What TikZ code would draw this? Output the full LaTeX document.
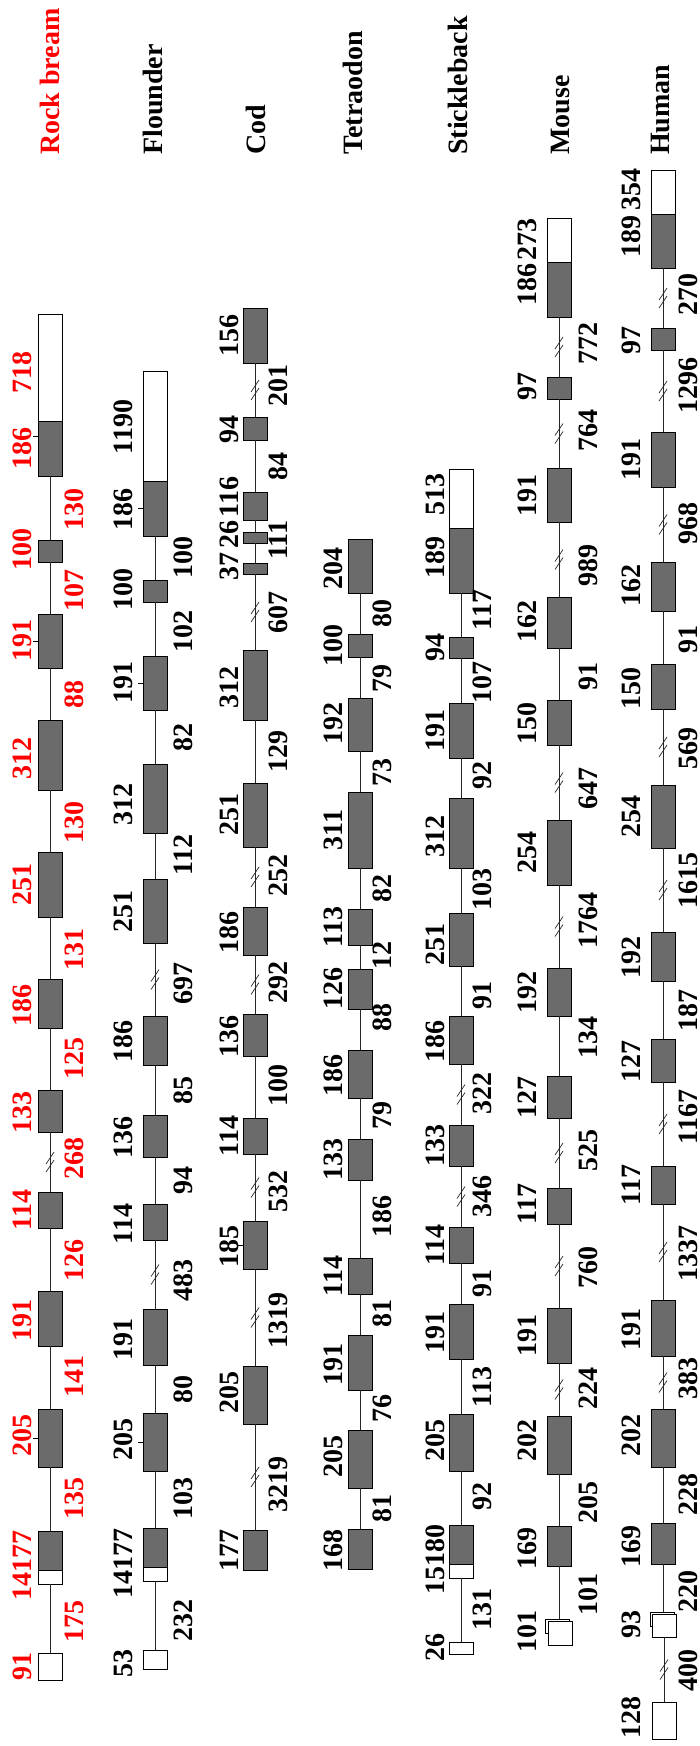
\documentclass[tikz,border=0pt]{standalone}
\usepackage{fontspec}
\setmainfont{Liberation Serif}
\definecolor{exgray}{RGB}{107,107,107}
\definecolor{rbred}{RGB}{255,0,0}
\tikzset{
  exon/.style={draw=black, fill=exgray, line width=0.8pt, minimum width=24pt, inner sep=0pt, outer sep=0pt},
  utr/.style={exon, fill=white},
  intron/.style={draw=black!85, line width=0.9pt},
  lab/.style={rotate=90, inner sep=0pt, font=\bfseries\fontsize{28}{28}\selectfont},
  title/.style={lab, anchor=south west},
  tickmark/.style={draw=black, line width=0.8pt},
  brk/.pic={\draw[line width=0.7pt] (-4pt,-10pt) -- (4pt,2pt) (-4pt,-2pt) -- (4pt,10pt);}
}
\newcommand\exonbox[5][exon]{%
  \pgfmathsetmacro\exh{#5-#4}%
  \pgfmathsetmacro\exc{(#4+#5)/2}%
  \node[#1, minimum height=\exh pt] (#2) at (#3,\exc) {};}
\newcommand\numlab[5][]{\node[lab,#1] (#2) at (#3,#4) {#5};}
\begin{document}
\begin{tikzpicture}[x=1pt,y=-1pt]
\useasboundingbox (0,0) rectangle (700,1746);

% ---------------- Rock bream ----------------
\node[title, text=rbred] (tRB) at (60,155) {Rock bream};
\exonbox[utr]{rb1}{50}{314}{476}
\exonbox{rb1c}{50}{421}{476}
\exonbox{rb2}{50}{540}{562}
\exonbox{rb3}{50}{614}{668}
\exonbox{rb4}{50}{720}{790}
\exonbox{rb5}{50}{852}{917}
\exonbox{rb6}{50}{979}{1028}
\exonbox{rb7}{50}{1090}{1132}
\exonbox{rb8}{50}{1192}{1228}
\exonbox{rb9}{50}{1291}{1346}
\exonbox{rb10}{50}{1409}{1467}
\exonbox[utr]{rb11}{50}{1531}{1584}
\exonbox{rb11c}{50}{1531}{1570}
\exonbox[utr]{rb12}{50}{1653}{1680}
\draw[intron] (rb1) -- (rb2);
\draw[intron] (rb2) -- (rb3);
\draw[intron] (rb3) -- (rb4);
\draw[intron] (rb4) -- (rb5);
\draw[intron] (rb5) -- (rb6);
\draw[intron] (rb6) -- (rb7);
\draw[intron] (rb7) -- pic[midway]{brk} (rb8);
\draw[intron] (rb8) -- (rb9);
\draw[intron] (rb9) -- (rb10);
\draw[intron] (rb10) -- (rb11);
\draw[intron] (rb11) -- (rb12);
\draw[tickmark] (rb1c.north west) ++(0,15) -- ++(-5,0);
\draw[tickmark] (rb3.west) -- ++(-5,0);
\draw[tickmark] (rb10.west) -- ++(-5,0);
\numlab[text=rbred]{rbl1}{22}{372}{718}
\numlab[text=rbred]{rbl2}{22}{448}{186}
\numlab[text=rbred]{rbl3}{22}{549}{100}
\numlab[text=rbred]{rbl4}{22}{640}{191}
\numlab[text=rbred]{rbl5}{22}{758}{312}
\numlab[text=rbred]{rbl6}{22}{884}{251}
\numlab[text=rbred]{rbl7}{22}{1005}{186}
\numlab[text=rbred]{rbl8}{22}{1112}{133}
\numlab[text=rbred]{rbl9}{22}{1210}{114}
\numlab[text=rbred]{rbl10}{22}{1320}{191}
\numlab[text=rbred]{rbl11}{22}{1435}{205}
\numlab[text=rbred]{rbl12}{22}{1565}{14177}
\numlab[text=rbred]{rbl13}{22}{1666}{91}
\numlab[text=rbred]{rbr1}{74}{509}{130}
\numlab[text=rbred]{rbr2}{74}{590}{107}
\numlab[text=rbred]{rbr3}{74}{694}{88}
\numlab[text=rbred]{rbr4}{74}{822}{130}
\numlab[text=rbred]{rbr5}{74}{949}{131}
\numlab[text=rbred]{rbr6}{74}{1058}{125}
\numlab[text=rbred]{rbr7}{74}{1158}{268}
\numlab[text=rbred]{rbr8}{74}{1260}{126}
\numlab[text=rbred]{rbr9}{74}{1376}{141}
\numlab[text=rbred]{rbr10}{74}{1498}{135}
\numlab[text=rbred]{rbr11}{74}{1621}{175}

% ---------------- Flounder ----------------
\node[title] (tFL) at (163,155) {Flounder};
\exonbox[utr]{fl1}{155}{371}{536}
\exonbox{fl1c}{155}{481}{536}
\exonbox{fl2}{155}{580}{602}
\exonbox{fl3}{155}{656}{710}
\exonbox{fl4}{155}{764}{833}
\exonbox{fl5}{155}{879}{943}
\exonbox{fl6}{155}{1016}{1065}
\exonbox{fl7}{155}{1115}{1157}
\exonbox{fl8}{155}{1204}{1240}
\exonbox{fl9}{155}{1309}{1365}
\exonbox{fl10}{155}{1413}{1471}
\exonbox[utr]{fl11}{155}{1528}{1581}
\exonbox{fl11c}{155}{1528}{1567}
\exonbox[utr]{fl12}{155}{1650}{1669}
\draw[intron] (fl1) -- (fl2);
\draw[intron] (fl2) -- (fl3);
\draw[intron] (fl3) -- (fl4);
\draw[intron] (fl4) -- (fl5);
\draw[intron] (fl5) -- pic[midway]{brk} (fl6);
\draw[intron] (fl6) -- (fl7);
\draw[intron] (fl7) -- (fl8);
\draw[intron] (fl8) -- pic[midway]{brk} (fl9);
\draw[intron] (fl9) -- (fl10);
\draw[intron] (fl10) -- (fl11);
\draw[intron] (fl11) -- (fl12);
\draw[tickmark] (fl1c.west) -- ++(-5,0);
\draw[tickmark] (fl3.west) -- ++(-5,0);
\draw[tickmark] (fl10.west) -- ++(-5,0);
\numlab{fll1}{123}{427}{1190}
\numlab{fll2}{123}{509}{186}
\numlab{fll3}{123}{589}{100}
\numlab{fll4}{123}{682}{191}
\numlab{fll5}{123}{804}{312}
\numlab{fll6}{123}{911}{251}
\numlab{fll7}{123}{1041}{186}
\numlab{fll8}{123}{1137}{136}
\numlab{fll9}{123}{1224}{114}
\numlab{fll10}{123}{1339}{191}
\numlab{fll11}{123}{1439}{205}
\numlab{fll12}{123}{1563}{14177}
\numlab{fll13}{123}{1663}{53}
\numlab{flr1}{183}{557}{100}
\numlab{flr2}{183}{631}{102}
\numlab{flr3}{183}{737}{82}
\numlab{flr4}{183}{855}{112}
\numlab{flr5}{183}{983}{697}
\numlab{flr6}{183}{1090}{85}
\numlab{flr7}{183}{1180}{94}
\numlab{flr8}{183}{1280}{483}
\numlab{flr9}{183}{1389}{80}
\numlab{flr10}{183}{1498}{103}
\numlab{flr11}{183}{1620}{232}

% ---------------- Cod ----------------
\node[title] (tCO) at (266,155) {Cod};
\exonbox{co1}{255}{308}{363}
\exonbox{co2}{255}{417}{440}
\exonbox{co3}{255}{492}{520}
\exonbox{co4}{255}{532}{543}
\exonbox{co5}{255}{563}{574}
\exonbox{co6}{255}{650}{720}
\exonbox{co7}{255}{783}{847}
\exonbox{co8}{255}{907}{955}
\exonbox{co9}{255}{1014}{1056}
\exonbox{co10}{255}{1118}{1154}
\exonbox{co11}{255}{1221}{1269}
\exonbox{co12}{255}{1366}{1424}
\exonbox{co13}{255}{1530}{1570}
\draw[intron] (co1) -- pic[midway]{brk} (co2);
\draw[intron] (co2) -- (co3);
\draw[intron] (co3) -- (co4);
\draw[intron] (co4) -- (co5);
\draw[intron] (co5) -- pic[midway]{brk} (co6);
\draw[intron] (co6) -- (co7);
\draw[intron] (co7) -- pic[midway]{brk} (co8);
\draw[intron] (co8) -- pic[midway]{brk} (co9);
\draw[intron] (co9) -- (co10);
\draw[intron] (co10) -- pic[midway]{brk} (co11);
\draw[intron] (co11) -- pic[midway]{brk} (co12);
\draw[intron] (co12) -- pic[midway]{brk} (co13);
\draw[tickmark] (co11.west) -- ++(-5,0);
\numlab{col1}{229}{335}{156}
\numlab{col2}{229}{429}{94}
\numlab{col3}{229}{497}{116}
\numlab{col4}{229}{534}{26}
\numlab{col5}{229}{566}{37}
\numlab{col6}{229}{687}{312}
\numlab{col7}{229}{814}{251}
\numlab{col8}{229}{932}{186}
\numlab{col9}{229}{1036}{136}
\numlab{col10}{229}{1136}{114}
\numlab{col11}{229}{1246}{185}
\numlab{col12}{229}{1392}{205}
\numlab{col13}{229}{1550}{177}
\numlab{cor1}{278}{385}{201}
\numlab{cor2}{278}{466}{84}
\numlab{cor3}{278}{540}{111}
\numlab{cor4}{278}{612}{607}
\numlab{cor5}{278}{751}{129}
\numlab{cor6}{278}{875}{252}
\numlab{cor7}{278}{982}{292}
\numlab{cor8}{278}{1085}{100}
\numlab{cor9}{278}{1191}{532}
\numlab{cor10}{278}{1320}{1319}
\numlab{cor11}{278}{1484}{3219}

% ---------------- Tetraodon ----------------
\node[title] (tTE) at (363,155) {Tetraodon};
\exonbox{te1}{360}{539}{593}
\exonbox{te2}{360}{634}{657}
\exonbox{te3}{360}{698}{751}
\exonbox{te4}{360}{792}{868}
\exonbox{te5}{360}{909}{945}
\exonbox{te6}{360}{969}{1009}
\exonbox{te7}{360}{1050}{1098}
\exonbox{te8}{360}{1139}{1180}
\exonbox{te9}{360}{1258}{1294}
\exonbox{te10}{360}{1335}{1390}
\exonbox{te11}{360}{1430}{1488}
\exonbox{te12}{360}{1529}{1569}
\draw[intron] (te1) -- (te2);
\draw[intron] (te2) -- (te3);
\draw[intron] (te3) -- (te4);
\draw[intron] (te4) -- (te5);
\draw[intron] (te5) -- (te6);
\draw[intron] (te6) -- (te7);
\draw[intron] (te7) -- (te8);
\draw[intron] (te8) -- (te9);
\draw[intron] (te9) -- (te10);
\draw[intron] (te10) -- (te11);
\draw[intron] (te11) -- (te12);
\numlab{tel1}{333}{568}{204}
\numlab{tel2}{333}{645}{100}
\numlab{tel3}{333}{723}{192}
\numlab{tel4}{333}{830}{311}
\numlab{tel5}{333}{927}{113}
\numlab{tel6}{333}{988}{126}
\numlab{tel7}{333}{1075}{186}
\numlab{tel8}{333}{1159}{133}
\numlab{tel9}{333}{1276}{114}
\numlab{tel10}{333}{1364}{191}
\numlab{tel11}{333}{1456}{205}
\numlab{tel12}{333}{1550}{168}
\numlab{ter1}{382}{613}{80}
\numlab{ter2}{382}{678}{79}
\numlab{ter3}{382}{772}{73}
\numlab{ter4}{382}{888}{82}
\numlab{ter5}{382}{955}{12}
\numlab{ter6}{382}{1017}{88}
\numlab{ter7}{382}{1115}{79}
\numlab{ter8}{382}{1216}{186}
\numlab{ter9}{382}{1313}{81}
\numlab{ter10}{382}{1408}{76}
\numlab{ter11}{382}{1508}{81}

% ---------------- Stickleback ----------------
\node[title] (tST) at (468,155) {Stickleback};
\exonbox[utr]{st1}{461}{469}{593}
\exonbox{st1c}{461}{528}{593}
\exonbox{st2}{461}{637}{658}
\exonbox{st3}{461}{703}{758}
\exonbox{st4}{461}{798}{868}
\exonbox{st5}{461}{913}{966}
\exonbox{st6}{461}{1016}{1064}
\exonbox{st7}{461}{1125}{1166}
\exonbox{st8}{461}{1227}{1263}
\exonbox{st9}{461}{1304}{1359}
\exonbox{st10}{461}{1414}{1471}
\exonbox[utr]{st11}{461}{1525}{1578}
\exonbox{st11c}{461}{1525}{1564}
\exonbox[utr]{st12}{461}{1642}{1654}
\draw[intron] (st1) -- (st2);
\draw[intron] (st2) -- (st3);
\draw[intron] (st3) -- (st4);
\draw[intron] (st4) -- (st5);
\draw[intron] (st5) -- (st6);
\draw[intron] (st6) -- pic[midway]{brk} (st7);
\draw[intron] (st7) -- pic[midway]{brk} (st8);
\draw[intron] (st8) -- (st9);
\draw[intron] (st9) -- (st10);
\draw[intron] (st10) -- (st11);
\draw[intron] (st11) -- (st12);
\numlab{stl1}{435}{494}{513}
\numlab{stl2}{435}{557}{189}
\numlab{stl3}{435}{647}{94}
\numlab{stl4}{435}{730}{191}
\numlab{stl5}{435}{836}{312}
\numlab{stl6}{435}{944}{251}
\numlab{stl7}{435}{1041}{186}
\numlab{stl8}{435}{1145}{133}
\numlab{stl9}{435}{1245}{114}
\numlab{stl10}{435}{1332}{191}
\numlab{stl11}{435}{1440}{205}
\numlab{stl12}{435}{1559}{15180}
\numlab{stl13}{435}{1647}{26}
\numlab{str1}{482}{610}{117}
\numlab{str2}{482}{682}{107}
\numlab{str3}{482}{775}{92}
\numlab{str4}{482}{889}{103}
\numlab{str5}{482}{995}{91}
\numlab{str6}{482}{1093}{322}
\numlab{str7}{482}{1196}{346}
\numlab{str8}{482}{1283}{91}
\numlab{str9}{482}{1387}{113}
\numlab{str10}{482}{1496}{92}
\numlab{str11}{482}{1609}{131}

% ---------------- Mouse ----------------
\node[title] (tMO) at (570,155) {Mouse};
\exonbox[utr]{mo1}{559}{218}{317}
\exonbox{mo1c}{559}{262}{317}
\exonbox{mo2}{559}{377}{399}
\exonbox{mo3}{559}{468}{522}
\exonbox{mo4}{559}{597}{648}
\exonbox{mo5}{559}{700}{745}
\exonbox{mo6}{559}{820}{885}
\exonbox{mo7}{559}{968}{1016}
\exonbox{mo8}{559}{1076}{1118}
\exonbox{mo9}{559}{1188}{1224}
\exonbox{mo10}{559}{1308}{1363}
\exonbox{mo11}{559}{1416}{1474}
\exonbox{mo12}{559}{1526}{1566}
\exonbox[utr]{mo13b}{557}{1619}{1633}
\exonbox[utr]{mo13}{560}{1621}{1645}
\draw[intron] (mo1) -- pic[midway]{brk} (mo2);
\draw[intron] (mo2) -- pic[midway]{brk} (mo3);
\draw[intron] (mo3) -- pic[midway]{brk} (mo4);
\draw[intron] (mo4) -- (mo5);
\draw[intron] (mo5) -- pic[midway]{brk} (mo6);
\draw[intron] (mo6) -- pic[midway]{brk} (mo7);
\draw[intron] (mo7) -- (mo8);
\draw[intron] (mo8) -- pic[midway]{brk} (mo9);
\draw[intron] (mo9) -- pic[midway]{brk} (mo10);
\draw[intron] (mo10) -- pic[midway]{brk} (mo11);
\draw[intron] (mo11) -- (mo12);
\draw[intron] (mo12.south) -- (mo12.south |- mo13b.north);
\numlab{mol1}{527}{239}{273}
\numlab{mol2}{527}{284}{186}
\numlab{mol3}{527}{386}{97}
\numlab{mol4}{527}{495}{191}
\numlab{mol5}{527}{621}{162}
\numlab{mol6}{527}{723}{150}
\numlab{mol7}{527}{852}{254}
\numlab{mol8}{527}{992}{192}
\numlab{mol9}{527}{1097}{127}
\numlab{mol10}{527}{1204}{117}
\numlab{mol11}{527}{1335}{191}
\numlab{mol12}{527}{1440}{202}
\numlab{mol13}{527}{1548}{169}
\numlab{mol14}{527}{1631}{101}
\numlab{mor1}{588}{343}{772}
\numlab{mor2}{588}{430}{764}
\numlab{mor3}{588}{565}{989}
\numlab{mor4}{588}{676}{91}
\numlab{mor5}{588}{788}{647}
\numlab{mor6}{588}{920}{1764}
\numlab{mor7}{588}{1037}{134}
\numlab{mor8}{588}{1150}{525}
\numlab{mor9}{588}{1267}{760}
\numlab{mor10}{588}{1388}{224}
\numlab{mor11}{588}{1502}{205}
\numlab{mor12}{588}{1594}{101}

% ---------------- Human ----------------
\node[title] (tHU) at (670,155) {Human};
\exonbox[utr]{hu1}{663}{170}{268}
\exonbox{hu1c}{663}{214}{268}
\exonbox{hu2}{663}{328}{350}
\exonbox{hu3}{663}{432}{487}
\exonbox{hu4}{663}{562}{611}
\exonbox{hu5}{663}{664}{709}
\exonbox{hu6}{663}{785}{848}
\exonbox{hu7}{663}{932}{981}
\exonbox{hu8}{663}{1039}{1082}
\exonbox{hu9}{663}{1166}{1204}
\exonbox{hu10}{663}{1300}{1356}
\exonbox{hu11}{663}{1409}{1467}
\exonbox{hu12}{663}{1523}{1564}
\exonbox[utr]{hu13b}{662}{1612}{1626}
\exonbox[utr]{hu13}{664}{1614}{1637}
\exonbox[utr]{hu14}{664}{1702}{1739}
\draw[intron] (hu1) -- pic[midway]{brk} (hu2);
\draw[intron] (hu2) -- pic[midway]{brk} (hu3);
\draw[intron] (hu3) -- pic[midway]{brk} (hu4);
\draw[intron] (hu4) -- (hu5);
\draw[intron] (hu5) -- pic[midway]{brk} (hu6);
\draw[intron] (hu6) -- pic[midway]{brk} (hu7);
\draw[intron] (hu7) -- (hu8);
\draw[intron] (hu8) -- pic[midway]{brk} (hu9);
\draw[intron] (hu9) -- pic[midway]{brk} (hu10);
\draw[intron] (hu10) -- pic[midway]{brk} (hu11);
\draw[intron] (hu11) -- (hu12);
\draw[intron] (hu12.south) -- (hu12.south |- hu13b.north);
\draw[intron] (hu13) -- pic[midway]{brk} (hu14);
\numlab{hul1}{631}{189}{354}
\numlab{hul2}{631}{236}{189}
\numlab{hul3}{631}{340}{97}
\numlab{hul4}{631}{459}{191}
\numlab{hul5}{631}{585}{162}
\numlab{hul6}{631}{688}{150}
\numlab{hul7}{631}{816}{254}
\numlab{hul8}{631}{957}{192}
\numlab{hul9}{631}{1061}{127}
\numlab{hul10}{631}{1185}{117}
\numlab{hul11}{631}{1329}{191}
\numlab{hul12}{631}{1435}{202}
\numlab{hul13}{631}{1546}{169}
\numlab{hul14}{631}{1624}{93}
\numlab{hul15}{631}{1717}{128}
\numlab{hur1}{688}{294}{270}
\numlab{hur2}{688}{385}{1296}
\numlab{hur3}{688}{523}{968}
\numlab{hur4}{688}{639}{91}
\numlab{hur5}{688}{748}{569}
\numlab{hur6}{688}{880}{1615}
\numlab{hur7}{688}{1010}{187}
\numlab{hur8}{688}{1117}{1167}
\numlab{hur9}{688}{1253}{1337}
\numlab{hur10}{688}{1378}{383}
\numlab{hur11}{688}{1494}{228}
\numlab{hur12}{688}{1591}{220}
\numlab{hur13}{688}{1670}{400}
\end{tikzpicture}
\end{document}
